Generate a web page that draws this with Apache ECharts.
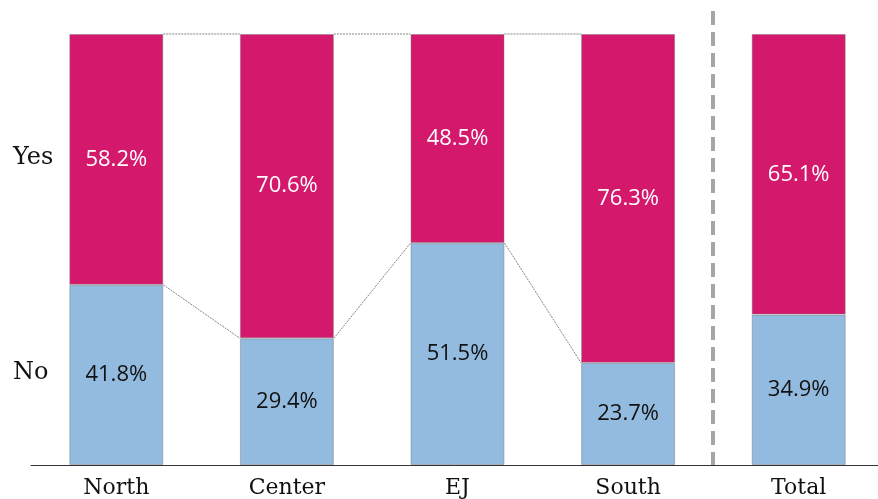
<!DOCTYPE html>
<html>
<head>
<meta charset="utf-8">
<script src="https://cdn.jsdelivr.net/npm/echarts@6/dist/echarts.min.js"></script>
<style>
	html, body { margin: 0; padding: 0; background: #fff; }
	#chart { width: 878px; height: 499px; }
</style>
</head>
<body>
<div id="chart"></div>
<script>
var categories = [ 'North', 'Center', 'EJ', 'South', 'Total' ];
var noValues = [ 41.8, 29.4, 51.5, 23.7, 34.9 ];
var yesValues = [ 58.2, 70.6, 48.5, 76.3, 65.1 ];
var groupLabels = [ 'Yes', 'No' ];

var BAR_W = 94;
var serif = '"DejaVu Serif", "Liberation Serif", serif';
var sans = '"Open Sans", "Noto Sans", sans-serif';

var pctLabel = function(color) {
	return {
		show : true,
		position : 'inside',
		color : color,
		fontFamily : sans,
		fontSize : 22,
		formatter : function(p) {
			return p.value.toFixed(1) + '%';
		}
	};
};

// connectors between the regional bars (not to Total)
var connectorData = [];
for (var i = 0; i < 3; i++) {
	connectorData.push([ i, noValues[i] ]);
}

var chart = echarts.init(document.getElementById('chart'));

var option = {
	animation : false,
	grid : {
		left : 31,
		right : -6,
		top : 34,
		bottom : 34,
		outerBoundsMode : 'none',
		containLabel : false
	},
	xAxis : {
		type : 'category',
		data : categories,
		axisLine : {
			lineStyle : { color : '#333', width : 1 }
		},
		axisTick : { show : false },
		axisLabel : {
			color : '#111',
			fontFamily : serif,
			fontSize : 22,
			margin : 12
		}
	},
	yAxis : {
		type : 'value',
		min : 0,
		max : 100,
		show : false,
		splitLine : { show : false }
	},
	series : [ {
		name : 'No',
		type : 'bar',
		stack : 'all',
		barWidth : BAR_W,
		data : noValues,
		itemStyle : {
			color : '#92bbdf',
			borderColor : 'rgba(120,120,120,0.45)',
			borderWidth : 1
		},
		label : pctLabel('#111')
	}, {
		name : 'Yes',
		type : 'bar',
		stack : 'all',
		barWidth : BAR_W,
		data : yesValues,
		itemStyle : {
			color : '#d4186c',
			borderColor : 'rgba(120,120,120,0.45)',
			borderWidth : 1
		},
		label : pctLabel('#fff')
	}, {
		name : 'connectors',
		type : 'custom',
		silent : true,
		data : connectorData,
		encode : { x : 0, y : 1 },
		renderItem : function(params, api) {
			var i = api.value(0);
			var a = api.coord([ i, noValues[i] ]);
			var b = api.coord([ i + 1, noValues[i + 1] ]);
			var ta = api.coord([ i, 100 ]);
			var tb = api.coord([ i + 1, 100 ]);
			var h = BAR_W / 2;
			var style = { stroke : '#666', lineWidth : 0.8, lineDash : [ 2, 1 ] };
			return {
				type : 'group',
				children : [ {
					type : 'line',
					shape : { x1 : a[0] + h, y1 : a[1], x2 : b[0] - h, y2 : b[1] },
					style : style
				}, {
					type : 'line',
					shape : { x1 : ta[0] + h, y1 : ta[1], x2 : tb[0] - h, y2 : tb[1] },
					style : style
				} ]
			};
		}
	}, {
		name : 'divider',
		type : 'custom',
		silent : true,
		data : [ [ 3, 0 ] ],
		encode : { x : 0, y : 1 },
		renderItem : function(params, api) {
			var a = api.coord([ 3, 0 ]);
			var b = api.coord([ 4, 0 ]);
			var x = Math.round((a[0] + b[0]) / 2);
			return {
				type : 'line',
				shape : { x1 : x, y1 : params.coordSys.y - 23, x2 : x, y2 : a[1] },
				style : { stroke : '#a6a6a6', lineWidth : 4, lineDash : [ 14, 7 ] }
			};
		}
	} ]
};

chart.setOption(option);

// Yes / No labels on the left, level with the North bar segments
var yYes = chart.convertToPixel({ gridIndex : 0 }, [ 0, noValues[0] + yesValues[0] / 2 ])[1];
var yNo = chart.convertToPixel({ gridIndex : 0 }, [ 0, noValues[0] / 2 ])[1];
chart.setOption({
	graphic : [ {
		type : 'text',
		left : 13,
		top : yYes - 14,
		style : { text : groupLabels[0], font : '24px ' + serif, fill : '#111' }
	}, {
		type : 'text',
		left : 13,
		top : yNo - 14,
		style : { text : groupLabels[1], font : '24px ' + serif, fill : '#111' }
	} ]
});
</script>
</body>
</html>
